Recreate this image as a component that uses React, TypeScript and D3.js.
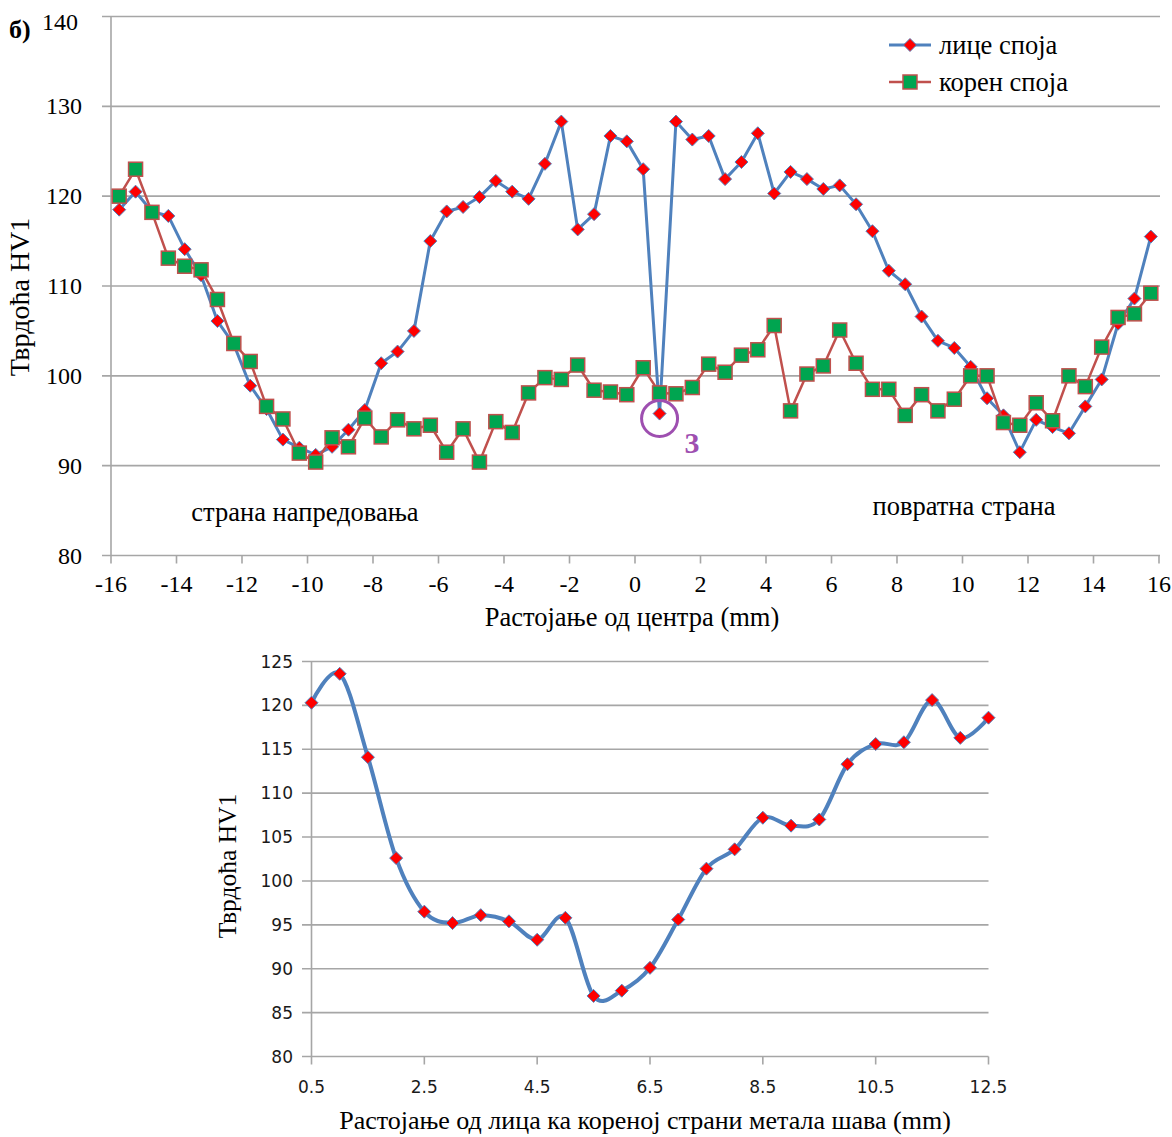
import React from 'react';
import * as d3 from 'd3';

// ---------- Data: top chart ----------
const topPositions = [
  -15.75, -15.25, -14.75, -14.25, -13.75, -13.25, -12.75, -12.25, -11.75, -11.25, -10.75, -10.25, -9.75, -9.25, -8.75, -8.25,
  -7.75, -7.25, -6.75, -6.25, -5.75, -5.25, -4.75, -4.25, -3.75, -3.25, -2.75, -2.25, -1.75, -1.25, -0.75, -0.25,
  0.25, 0.75, 1.25, 1.75, 2.25, 2.75, 3.25, 3.75, 4.25, 4.75, 5.25, 5.75, 6.25, 6.75, 7.25, 7.75,
  8.25, 8.75, 9.25, 9.75, 10.25, 10.75, 11.25, 11.75, 12.25, 12.75, 13.25, 13.75, 14.25, 14.75, 15.25, 15.75,
];
const faceValues = [
  118.5, 120.5, 118.3, 117.8, 114.1, 111.2, 106.1, 103.5, 98.9, 96.3, 92.9, 92.0, 91.2, 92.1, 94.0, 96.2,
  101.4, 102.7, 105.0, 115.0, 118.3, 118.8, 119.9, 121.7, 120.5, 119.7, 123.6, 128.3, 116.3, 118.0, 126.7, 126.1,
  123.0, 95.8, 128.3, 126.3, 126.7, 121.9, 123.8, 127.0, 120.3, 122.7, 121.9, 120.8, 121.2, 119.1, 116.1, 111.7,
  110.2, 106.6, 103.9, 103.1, 101.0, 97.5, 95.6, 91.5, 95.1, 94.3, 93.6, 96.6, 99.6, 105.8, 108.6, 115.5,
];
const rootValues = [
  120.0, 123.0, 118.2, 113.1, 112.2, 111.8, 108.5, 103.6, 101.6, 96.6, 95.2, 91.4, 90.4, 93.1, 92.1, 95.3,
  93.2, 95.1, 94.1, 94.5, 91.5, 94.1, 90.4, 94.9, 93.7, 98.1, 99.8, 99.6, 101.2, 98.4, 98.2, 97.9,
  100.9, 98.1, 98.0, 98.7, 101.3, 100.4, 102.3, 102.9, 105.6, 96.1, 100.2, 101.1, 105.1, 101.4, 98.5, 98.5,
  95.6, 97.9, 96.1, 97.4, 100.0, 100.0, 94.8, 94.5, 97.0, 95.0, 100.0, 98.8, 103.2, 106.5, 106.9, 109.2,
];
const topXTicks = [-16, -14, -12, -10, -8, -6, -4, -2, 0, 2, 4, 6, 8, 10, 12, 14, 16];
const topYTicks = [80, 90, 100, 110, 120, 130, 140];
const seriesNames = ['лице споја', 'корен споја'];
const markedPosition = 0.75;
const markedValue = 95.8;
const markedLabel = '3';

// ---------- Data: bottom chart ----------
const depthPositions = [0.5, 1.0, 1.5, 2.0, 2.5, 3.0, 3.5, 4.0, 4.5, 5.0, 5.5, 6.0, 6.5, 7.0, 7.5, 8.0, 8.5, 9.0, 9.5, 10.0, 10.5, 11.0, 11.5, 12.0, 12.5];
const depthValues = [120.3, 123.6, 114.1, 102.6, 96.5, 95.2, 96.1, 95.4, 93.3, 95.8, 86.9, 87.5, 90.1, 95.6, 101.4, 103.6, 107.2, 106.3, 107.0, 113.3, 115.6, 115.8, 120.6, 116.3, 118.6];
const bottomXTicks = [0.5, 2.5, 4.5, 6.5, 8.5, 10.5, 12.5];
const bottomYTicks = [80, 85, 90, 95, 100, 105, 110, 115, 120, 125];

const SERIF = '"Liberation Serif", "Times New Roman", serif';
const SANS = '"DejaVu Sans", Verdana, sans-serif';
const GRID = '#a6a6a6';
const BLUE = '#4f81bd';
const BROWN = '#c0504d';
const GREEN = '#00a550';
const RED = '#ff0000';
const PURPLE = '#9e4fb0';

const diamond = (r: number) => `M0,${-r}L${r},0L0,${r}L${-r},0Z`;

export default function App() {
  // top scales
  const xT = d3.scaleLinear().domain([-16, 16]).range([111, 1159]);
  const yT = d3.scaleLinear().domain([80, 140]).range([555.5, 16.5]);
  // bottom scales
  const xB = d3.scaleLinear().domain([0.5, 12.5]).range([311.5, 988.5]);
  const yB = d3.scaleLinear().domain([80, 125]).range([1056.5, 661.5]);

  const lineT = d3.line<number>().x((_, i) => xT(topPositions[i])).y((d) => yT(d));
  const lineB = d3
    .line<number>()
    .x((_, i) => xB(depthPositions[i]))
    .y((d) => yB(d))
    .curve(d3.curveCardinal.tension(0));

  const tf = 24;
  const lf = 26.5;

  return (
    <svg width={1172} height={1137} style={{ position: 'absolute', left: 0, top: 0, background: '#fff' }}>
      <rect x={0} y={0} width={1172} height={1137} fill="#fff" />
      {/* ===== TOP CHART ===== */}
      <g>
        {topYTicks.map((t) => (
          <g key={'gy' + t}>
            <line x1={102} x2={1160} y1={yT(t)} y2={yT(t)} stroke={GRID} strokeWidth={1.6} />
          </g>
        ))}
        <line x1={xT(-16)} x2={xT(-16)} y1={yT(140)} y2={yT(80)} stroke={GRID} strokeWidth={1.6} />
        {topXTicks.map((t) => (
          <line key={'tx' + t} x1={xT(t)} x2={xT(t)} y1={yT(80)} y2={yT(80) + 8} stroke={GRID} strokeWidth={1.6} />
        ))}
        {topYTicks.map((t) => (
          <text
            key={'ly' + t}
            x={t === 140 ? 78 : 82}
            y={t === 140 ? 22 : yT(t)}
            textAnchor="end"
            dominantBaseline="central"
            fontFamily={SERIF}
            fontSize={tf}
          >
            {t}
          </text>
        ))}
        {topXTicks.map((t) => (
          <text key={'lx' + t} x={xT(t)} y={584} textAnchor="middle" dominantBaseline="central" fontFamily={SERIF} fontSize={tf}>
            {t}
          </text>
        ))}
        <text x={9} y={38} fontFamily={SERIF} fontSize={26} fontWeight="bold">б)</text>
        <text
          transform={`translate(29,${297}) rotate(-90)`}
          textAnchor="middle"
          fontFamily={SERIF}
          fontSize={28}
        >
          Тврдоћа HV1
        </text>
        <text x={632} y={626} textAnchor="middle" fontFamily={SERIF} fontSize={lf}>
          Растојање од центра (mm)
        </text>
        <text x={305} y={521} textAnchor="middle" fontFamily={SERIF} fontSize={lf}>страна напредовања</text>
        <text x={964} y={515} textAnchor="middle" fontFamily={SERIF} fontSize={lf}>повратна страна</text>

        {/* series 1: face */}
        <path d={lineT(faceValues) || ''} fill="none" stroke={BLUE} strokeWidth={3} strokeLinejoin="round" />
        {faceValues.map((v, i) => (
          <path
            key={'f' + i}
            d={diamond(6.5)}
            transform={`translate(${xT(topPositions[i])},${yT(v)})`}
            fill={RED}
            stroke={BLUE}
            strokeWidth={1}
          />
        ))}
        {/* series 2: root */}
        <path d={lineT(rootValues) || ''} fill="none" stroke={BROWN} strokeWidth={2.5} strokeLinejoin="round" />
        {rootValues.map((v, i) => (
          <rect
            key={'r' + i}
            x={xT(topPositions[i]) - 7}
            y={yT(v) - 7}
            width={14}
            height={14}
            fill={GREEN}
            stroke={BROWN}
            strokeWidth={1.5}
          />
        ))}
        {/* annotation */}
        <circle cx={xT(markedPosition)} cy={yT(markedValue) + 5} r={18} fill="none" stroke={PURPLE} strokeWidth={3} />
        <text x={xT(markedPosition) + 25} y={453} fontFamily={SERIF} fontSize={30} fontWeight="bold" fill={PURPLE}>
          {markedLabel}
        </text>
        {/* legend */}
        <line x1={889} x2={931} y1={45} y2={45} stroke={BLUE} strokeWidth={3} />
        <path d={diamond(6.5)} transform="translate(910,45)" fill={RED} stroke={BLUE} strokeWidth={1} />
        <text x={939} y={45} dominantBaseline="central" fontFamily={SERIF} fontSize={lf}>{seriesNames[0]}</text>
        <line x1={889} x2={931} y1={82} y2={82} stroke={BROWN} strokeWidth={2.5} />
        <rect x={903} y={75} width={14} height={14} fill={GREEN} stroke={BROWN} strokeWidth={1.5} />
        <text x={939} y={82} dominantBaseline="central" fontFamily={SERIF} fontSize={lf}>{seriesNames[1]}</text>
      </g>

      {/* ===== BOTTOM CHART ===== */}
      <g>
        {bottomYTicks.map((t) => (
          <line key={'bgy' + t} x1={302} x2={988.5} y1={yB(t)} y2={yB(t)} stroke={GRID} strokeWidth={1.6} />
        ))}
        <line x1={xB(0.5)} x2={xB(0.5)} y1={yB(125)} y2={yB(80)} stroke={GRID} strokeWidth={1.6} />
        {bottomXTicks.map((t) => (
          <line key={'btx' + t} x1={xB(t)} x2={xB(t)} y1={yB(80)} y2={yB(80) + 8} stroke={GRID} strokeWidth={1.6} />
        ))}
        {bottomYTicks.map((t) => (
          <text key={'bly' + t} x={293} y={yB(t)} textAnchor="end" dominantBaseline="central" fontFamily={SANS} fontSize={17} fill="#1a1a1a">
            {t}
          </text>
        ))}
        {bottomXTicks.map((t) => (
          <text key={'blx' + t} x={xB(t)} y={1087} textAnchor="middle" dominantBaseline="central" fontFamily={SANS} fontSize={17} fill="#1a1a1a">
            {t.toFixed(1)}
          </text>
        ))}
        <text transform={`translate(236,866) rotate(-90)`} textAnchor="middle" fontFamily={SERIF} fontSize={25.5}>
          Тврдоћа HV1
        </text>
        <text x={645} y={1129} textAnchor="middle" fontFamily={SERIF} fontSize={26}>
          Растојање од лица ка кореној страни метала шава (mm)
        </text>
        <path d={lineB(depthValues) || ''} fill="none" stroke={BLUE} strokeWidth={4} strokeLinejoin="round" />
        {depthValues.map((v, i) => (
          <path
            key={'d' + i}
            d={diamond(6.5)}
            transform={`translate(${xB(depthPositions[i])},${yB(v)})`}
            fill={RED}
            stroke={BLUE}
            strokeWidth={1}
          />
        ))}
      </g>
    </svg>
  );
}
